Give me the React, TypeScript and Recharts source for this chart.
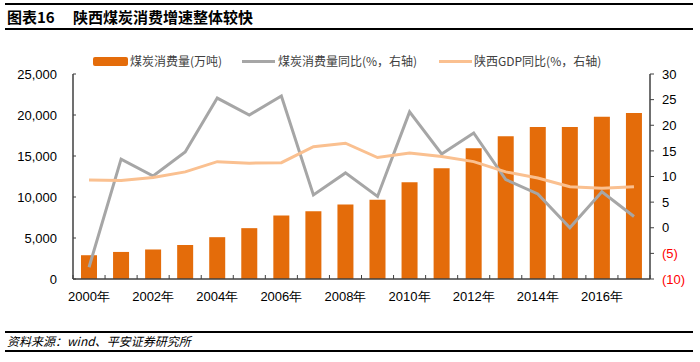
import React from 'react';
import { ComposedChart, Bar, Line, XAxis, YAxis } from 'recharts';

const years = ['2000年', '2001年', '2002年', '2003年', '2004年', '2005年', '2006年', '2007年', '2008年', '2009年', '2010年', '2011年', '2012年', '2013年', '2014年', '2015年', '2016年', '2017年'];
const consumption = [2900, 3300, 3600, 4150, 5100, 6200, 7750, 8250, 9100, 9650, 11800, 13500, 15950, 17400, 18550, 18550, 19800, 20250];
const coalYoY = [-7.7, 13.4, 10.1, 14.8, 25.3, 22.0, 25.7, 6.4, 10.7, 6.1, 22.6, 14.4, 18.5, 9.4, 6.6, 0.0, 7.0, 2.2];
const gdpYoY = [9.3, 9.2, 9.8, 10.9, 12.9, 12.6, 12.7, 15.8, 16.5, 13.7, 14.6, 13.9, 12.9, 10.9, 9.7, 8.0, 7.7, 8.0];
const leftTicks = [0, 5000, 10000, 15000, 20000, 25000];
const rightTicks = [-10, -5, 0, 5, 10, 15, 20, 25, 30];

const data = years.map((y, i) => ({ year: y, consumption: consumption[i], coal: coalYoY[i], gdp: gdpYoY[i] }));

const W = 700;
const H = 362;
const PLOT_LEFT = 73;
const PLOT_RIGHT = 650;
const PLOT_TOP = 74;
const PLOT_BOTTOM = 279;
const BAND = (PLOT_RIGHT - PLOT_LEFT) / years.length;
const AXIS_COLOR = '#404040';
const TICK_FONT = '"Liberation Sans", Arial, sans-serif';
const CJK_FONT = '"Noto Sans CJK SC", "Liberation Sans", sans-serif';

const XTick = (props: any) => {
  const { x, y, payload, index } = props;
  return (
    <g>
      <line x1={x - BAND / 2} x2={x - BAND / 2} y1={y} y2={y - 4} stroke={AXIS_COLOR} strokeWidth={1} />
      {index === years.length - 1 && (
        <line x1={x + BAND / 2} x2={x + BAND / 2} y1={y} y2={y - 4} stroke={AXIS_COLOR} strokeWidth={1} />
      )}
      {index % 2 === 0 && (
        <text x={x} y={y + 22} textAnchor="middle" fontSize={13} fontFamily={TICK_FONT} fill="#000">
          {payload.value}
        </text>
      )}
    </g>
  );
};

const RightTick = (props: any) => {
  const { x, y, payload } = props;
  const v = payload.value as number;
  const label = v < 0 ? `(${Math.abs(v)})` : `${v}`;
  return (
    <text x={x} y={y} dy="0.36em" textAnchor="start" fontSize={13} fontFamily={TICK_FONT} fill={v < 0 ? '#FF0000' : '#000'}>
      {label}
    </text>
  );
};

const LeftTick = (props: any) => {
  const { x, y, payload } = props;
  const v = payload.value as number;
  return (
    <g>
      <line x1={PLOT_LEFT} x2={PLOT_LEFT + 3} y1={y} y2={y} stroke={AXIS_COLOR} strokeWidth={1} />
      <text x={x} y={y} dy="0.36em" textAnchor="end" fontSize={13} fontFamily={TICK_FONT} fill="#000">
        {v.toLocaleString('en-US')}
      </text>
    </g>
  );
};

const legendItems = [
  { label: '煤炭消费量(万吨)', kind: 'bar', color: '#E46C0A', swatchLeft: 93, textLeft: 130 },
  { label: '煤炭消费量同比(%，右轴)', kind: 'line', color: '#A6A6A6', swatchLeft: 242, textLeft: 278 },
  { label: '陕西GDP同比(%，右轴)', kind: 'line', color: '#FAC090', swatchLeft: 439, textLeft: 474 },
];

export default function App() {
  return (
    <div style={{ position: 'absolute', left: 0, top: 0, width: W, height: H, background: '#fff', overflow: 'hidden' }}>
      {/* Title */}
      <div style={{ position: 'absolute', left: 5, top: 3, width: 688, height: 2, background: '#000' }} />
      <div style={{ position: 'absolute', left: 7, top: 7, fontFamily: CJK_FONT, fontWeight: 700, fontSize: 15, lineHeight: '20px', color: '#000', whiteSpace: 'pre' }}>
        {'图表16　 陕西煤炭消费增速整体较快'}
      </div>
      <div style={{ position: 'absolute', left: 5, top: 28, width: 688, height: 1.5, background: '#000' }} />

      {/* Legend */}
      {legendItems.map((it) => (
        <React.Fragment key={it.label}>
          <div
            style={{
              position: 'absolute',
              left: it.swatchLeft,
              top: it.kind === 'bar' ? 57 : 60,
              width: it.kind === 'bar' ? 35 : 33,
              height: it.kind === 'bar' ? 9 : 3,
              background: it.color,
              borderRadius: it.kind === 'bar' ? 2 : 0,
            }}
          />
          <div style={{ position: 'absolute', left: it.textLeft, top: 53, fontFamily: CJK_FONT, fontSize: 12, lineHeight: '16px', color: '#404040', whiteSpace: 'nowrap' }}>
            {it.label}
          </div>
        </React.Fragment>
      ))}

      <div style={{ position: 'absolute', left: 0, top: 0 }}>
        <ComposedChart
          width={W}
          height={H}
          data={data}
          margin={{ top: PLOT_TOP, bottom: H - PLOT_BOTTOM - 30, left: PLOT_LEFT - 60, right: W - PLOT_RIGHT - 46 }}
          barCategoryGap="50%"
        >
          <XAxis
            dataKey="year"
            interval={0}
            height={30}
            tickSize={0}
            tickMargin={0}
            tickLine={false}
            tick={<XTick />}
            axisLine={{ stroke: AXIS_COLOR, strokeWidth: 1.5 }}
          />
          <YAxis
            yAxisId="left"
            orientation="left"
            width={60}
            domain={[0, 25000]}
            ticks={leftTicks}
            interval={0}
            tickLine={false}
            tickSize={4}
            tickMargin={12}
            tick={<LeftTick />}
            axisLine={{ stroke: AXIS_COLOR, strokeWidth: 1.5 }}
          />
          <YAxis
            yAxisId="right"
            orientation="right"
            width={46}
            domain={[-10, 30]}
            ticks={rightTicks}
            interval={0}
            tickSize={4}
            tickMargin={8}
            tickLine={{ stroke: AXIS_COLOR }}
            tick={<RightTick />}
            axisLine={{ stroke: AXIS_COLOR, strokeWidth: 1.5 }}
          />
          <Bar yAxisId="left" dataKey="consumption" fill="#E46C0A" barSize={16} isAnimationActive={false} />
          <Line yAxisId="right" type="linear" dataKey="coal" stroke="#A6A6A6" strokeWidth={3} dot={false} isAnimationActive={false} />
          <Line yAxisId="right" type="linear" dataKey="gdp" stroke="#FAC090" strokeWidth={3} dot={false} isAnimationActive={false} />
        </ComposedChart>
      </div>

      {/* Source */}
      <div style={{ position: 'absolute', left: 5, top: 331, width: 688, height: 1.5, background: '#000' }} />
      <div style={{ position: 'absolute', left: 7, top: 333, fontFamily: CJK_FONT, fontStyle: 'italic', fontSize: 12, lineHeight: '16px', color: '#000', whiteSpace: 'nowrap' }}>
        资料来源：wind、平安证券研究所
      </div>
      <div style={{ position: 'absolute', left: 5, top: 350, width: 688, height: 1.5, background: '#000' }} />
    </div>
  );
}
